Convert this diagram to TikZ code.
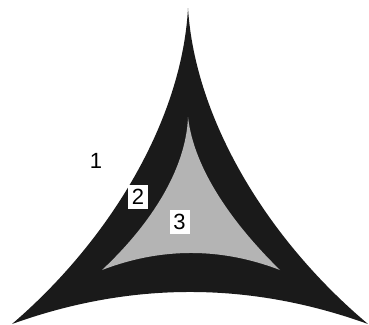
\documentclass[tikz,border=0pt]{standalone}
\usepackage{fontspec}
\setmainfont{Liberation Sans}
\definecolor{darkfill}{HTML}{1A1A1A}
\definecolor{midgray}{HTML}{B4B4B4}
\begin{document}
\begin{tikzpicture}[x=1pt,y=-1pt,
  outerfill/.style={fill=darkfill},
  innerfill/.style={fill=midgray},
  lab/.style={font=\fontsize{22}{22}\selectfont, inner sep=0pt},
  boxlab/.style={lab, fill=white, minimum width=20pt, minimum height=24pt}]
\useasboundingbox (0,0) rectangle (369,324);
\begin{scope}
\clip (0,0) rectangle (369,324);
\fill[outerfill] (188,8) .. controls (182,120) and (110,240) .. (12,324)
  .. controls (130.7,281.3) and (249.3,281.3) .. (368,324)
  .. controls (268,240) and (195,120) .. (188,8) -- cycle;
\fill[innerfill] (188,117) .. controls (186,170) and (150,225) .. (102,270)
  .. controls (161.3,247.3) and (220.7,247.3) .. (280,270)
  .. controls (234,225) and (194,170) .. (188,117) -- cycle;
\end{scope}
\node[lab] (one) at (96,161) {1};
\node[boxlab] (two) at (138,197) {2};
\node[boxlab] (three) at (179.5,221.5) {3};
\end{tikzpicture}
\end{document}
